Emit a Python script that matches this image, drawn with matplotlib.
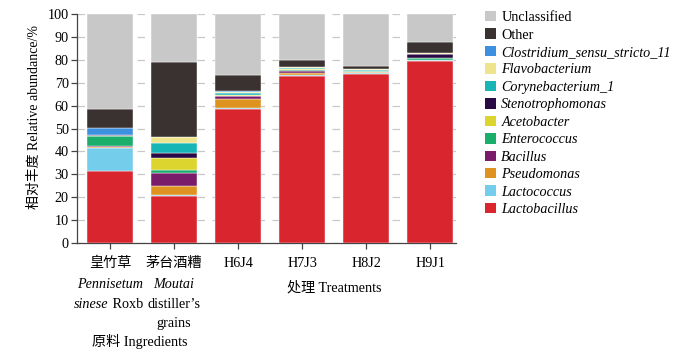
import matplotlib
matplotlib.use("Agg")
import matplotlib.pyplot as plt
import matplotlib.transforms as mtransforms
from matplotlib.patches import Patch
import numpy as np

FONTS = ["Liberation Serif", "Noto Sans CJK SC"]
plt.rcParams["font.family"] = FONTS
plt.rcParams["font.size"] = 10.2

samples = ["皇竹草", "茅台酒糟", "H6J4", "H7J3", "H8J2", "H9J1"]

# stacking order, bottom -> top
genera = [
    "Lactobacillus", "Lactococcus", "Pseudomonas", "Bacillus", "Enterococcus",
    "Acetobacter", "Stenotrophomonas", "Corynebacterium_1", "Flavobacterium",
    "Clostridium_sensu_stricto_11", "Other", "Unclassified",
]
lactobacillus = [31.6, 20.7, 58.5, 73.0, 73.8, 79.5]
lactococcus = [10.1, 0.2, 0.6, 0.3, 0.3, 0.3]
pseudomonas = [0.4, 4.1, 3.8, 1.0, 0.4, 0.2]
bacillus = [0.3, 5.7, 1.2, 0.6, 0.1, 0.1]
enterococcus = [4.2, 1.2, 0.3, 0.7, 0.5, 0.6]
acetobacter = [0.0, 5.1, 0.2, 0.2, 0.1, 0.1]
stenotrophomonas = [0.4, 2.2, 0.2, 0.2, 0.1, 1.5]
corynebacterium = [0.0, 4.3, 0.7, 0.3, 0.4, 0.4]
flavobacterium = [0.1, 2.7, 0.4, 0.5, 0.2, 0.2]
clostridium = [3.2, 0.0, 0.4, 0.1, 0.1, 0.2]
other = [8.2, 32.6, 7.2, 3.0, 1.2, 4.7]
unclassified = [41.5, 21.2, 26.5, 20.1, 22.7, 12.2]

values = [lactobacillus, lactococcus, pseudomonas, bacillus, enterococcus,
          acetobacter, stenotrophomonas, corynebacterium, flavobacterium,
          clostridium, other, unclassified]
colors = ["#D9262E", "#74CDEB", "#DE9320", "#7B1C6B", "#1AAE6A", "#DDD52F",
          "#2A0A45", "#17B5B5", "#EFE48E", "#3D8FDF", "#3A3230", "#C8C8C8"]

fig = plt.figure(figsize=(7.0, 3.56), dpi=100)
ax = fig.add_axes([0.11, 0.317, 0.541, 0.644])

x = np.arange(len(samples))
bottom = np.zeros(len(samples))
for name, vals, col in zip(genera, values, colors):
    vals = np.array(vals)
    ax.bar(x, vals, bottom=bottom, width=0.73, color=col, edgecolor="white",
           linewidth=0.3, zorder=3)
    bottom += vals

ax.set_xlim(-0.516, 5.4)
ax.set_ylim(0, 100)
ax.set_yticks(np.arange(0, 101, 10))
ax.yaxis.grid(True, color="#C8C8C8", linestyle=(0, (6, 6)), linewidth=0.9, zorder=0)
ax.set_axisbelow(True)
for s in ["top", "right"]:
    ax.spines[s].set_visible(False)
for s in ["left", "bottom"]:
    ax.spines[s].set_color("#444444")
    ax.spines[s].set_linewidth(0.9)
ax.tick_params(axis="both", direction="out", length=4, width=0.9, color="#444444")
ax.tick_params(axis="x", pad=6)
ax.tick_params(axis="y", pad=2)
ax.set_xticks(x)
ax.set_xticklabels(samples)
ax.set_ylabel("相对丰度 Relative abundance/%", fontsize=10)
ax.yaxis.set_label_coords(-0.094, 0.55)

# text below the x axis
tr = mtransforms.blended_transform_factory(ax.transData, fig.transFigure)
ax.text(0, 1 - 284 / 356, "Pennisetum", style="italic", ha="center", va="center", transform=tr)
ax.text(-0.02, 1 - 305 / 356, "sinese", style="italic", ha="right", va="center", transform=tr)
ax.text(-0.02, 1 - 305 / 356, " Roxb", ha="left", va="center", transform=tr)
ax.text(1, 1 - 284 / 356, "Moutai", style="italic", ha="center", va="center", transform=tr)
ax.text(1, 1 - 305 / 356, "distiller\u2019s", ha="center", va="center", transform=tr)
ax.text(1, 1 - 323 / 356, "grains", ha="center", va="center", transform=tr)
ax.text(0.47, 1 - 341 / 356, "原料 Ingredients", ha="center", va="center", transform=tr)
ax.text(3.5, 1 - 288 / 356, "处理 Treatments", ha="center", va="center", transform=tr)

handles = [Patch(facecolor=c, edgecolor="none") for c in colors][::-1]
labels = genera[::-1]
leg = fig.legend(handles, labels, loc="upper left", bbox_to_anchor=(485 / 700, 1 - 11 / 356),
                 frameon=False, handlelength=0.75, handleheight=0.75, handletextpad=0.4,
                 labelspacing=0.305, borderpad=0, borderaxespad=0)
for t in leg.get_texts():
    if t.get_text() not in ("Other", "Unclassified"):
        t.set_style("italic")

fig.savefig("out.png", dpi=100, facecolor="white")
